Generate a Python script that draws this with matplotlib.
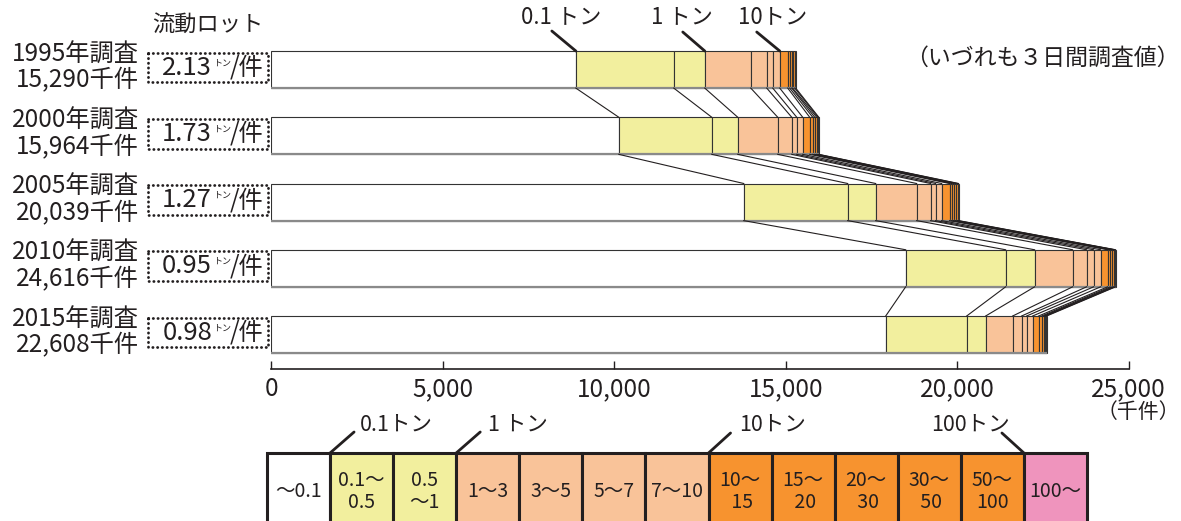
import numpy as np
import matplotlib
matplotlib.use('Agg')
import matplotlib.pyplot as plt
import matplotlib.transforms as mtransforms
from matplotlib.patches import Rectangle

plt.rcParams['font.family'] = ['Noto Sans CJK JP', 'DejaVu Sans']
INK = '#231f20'

# 流動ロット規模別の件数（千件）
years = [1995, 2000, 2005, 2010, 2015]
totals = [15290, 15964, 20039, 24616, 22608]
lots = ['2.13', '1.73', '1.27', '0.95', '0.98']
classes = ['～0.1', '0.1～\n0.5', '0.5\n～1', '1～3', '3～5', '5～7', '7～10',
           '10～\n 15', '15～\n 20', '20～\n 30', '30～\n 50', '50～\n100', '100～']
seg_1995 = [8878, 2856, 904, 1341, 466, 175, 204, 233, 58, 58, 29, 59, 29]
seg_2000 = [10131, 2711, 758, 1166, 408, 146, 174, 204, 88, 58, 58, 38, 24]
seg_2005 = [13774, 3031, 816, 1195, 408, 146, 175, 233, 59, 58, 58, 57, 29]
seg_2010 = [18496, 2914, 846, 1107, 408, 204, 204, 204, 77, 60, 40, 35, 21]
seg_2015 = [17914, 2361, 554, 787, 262, 146, 175, 174, 88, 58, 29, 29, 31]
segs = np.array([seg_1995, seg_2000, seg_2005, seg_2010, seg_2015])

WHITE, YEL, PEACH, ORG, PINK = '#ffffff', '#f2ef9e', '#f9c399', '#f7932f', '#ef94bd'
colors = [WHITE, YEL, YEL, PEACH, PEACH, PEACH, PEACH, ORG, ORG, ORG, ORG, ORG, PINK]

W, H = 1181, 521
fig = plt.figure(figsize=(W / 100, H / 100), dpi=100)
ax = fig.add_axes([271.4 / W, 152 / H, 857.3 / W, 369 / H])

h = 0.56
cum = np.cumsum(segs, axis=1)
for i in range(len(years)):
    left = np.concatenate([[0], cum[i, :-1]])
    ax.barh(i, segs[i], left=left, height=h, color=colors,
            edgecolor='#333333', linewidth=0.8)
    ax.plot([0, totals[i]], [i + h / 2, i + h / 2], color='#8a8a8a', lw=1.6,
            solid_capstyle='butt')

# 年次間の接続線
for i in range(len(years) - 1):
    for k in range(cum.shape[1]):
        ax.plot([cum[i, k], cum[i + 1, k]], [i + h / 2, i + 1 - h / 2],
                color=INK, lw=0.8)

ax.set_xlim(0, 25000)
ax.set_ylim(4.52, -1.05)
ax.set_yticks([])
for s in ['top', 'left', 'right']:
    ax.spines[s].set_visible(False)
ax.spines['bottom'].set_color(INK)
ax.spines['bottom'].set_linewidth(1.2)
ax.set_xticks(range(0, 25001, 5000))
ax.set_xticklabels([f'{v:,}' for v in range(0, 25001, 5000)])
ax.tick_params(axis='x', direction='in', length=6, width=1, pad=5,
               labelsize=17.5, colors=INK)

# 上部のトン区切り注記（1995年）
top = 0 - h / 2
for k, lab, lo, to in [(0, '0.1 トン', (-24, 20), (-15, 34)),
                       (2, '1 トン', (-22, 19), (-23, 34)),
                       (6, '10トン', (-23, 19), (-7, 34))]:
    ax.annotate('', xy=(cum[0, k], top), xytext=lo, textcoords='offset pixels',
                arrowprops=dict(arrowstyle='-', color=INK, lw=2, shrinkA=0, shrinkB=0))
    ax.annotate(lab, xy=(cum[0, k], top), xytext=to, textcoords='offset pixels',
                ha='center', va='center', fontsize=16, color=INK)

# 左側ラベルと流動ロット
blend = mtransforms.blended_transform_factory(fig.transFigure, ax.transData)
for i, (y, t, lot) in enumerate(zip(years, totals, lots)):
    ax.text(139 / W, i - 0.03, f'{y}年調査\n{t:,}千件', transform=blend,
            ha='right', va='center', fontsize=17.5, linespacing=1.0, color=INK)
    box = Rectangle((148 / W, i - 0.255), 120 / W, 0.45, transform=blend,
                    fill=False, edgecolor=INK, lw=2,
                    linestyle=(0, (0.1, 1.6)), clip_on=False)
    box.set_capstyle('round')
    ax.add_patch(box)
    ax.text(212 / W, i - 0.03, lot, transform=blend, ha='right', va='center',
            fontsize=18.5, color=INK)
    ax.text(213 / W, i - 0.10, 'トン', transform=blend, ha='left', va='center',
            fontsize=6.5, color=INK)
    ax.text(230 / W, i - 0.03, '/件', transform=blend, ha='left', va='center',
            fontsize=17.5, color=INK)

fig.text(208 / W, 1 - 25 / H, '流動ロット', ha='center', va='center',
         fontsize=16, color=INK)
fig.text(1180 / W, 1 - 58 / H, '（いづれも３日間調査値）', ha='right', va='center',
         fontsize=16.5, color=INK)
fig.text(1180 / W, 1 - 412 / H, '（千件）', ha='right', va='center',
         fontsize=15, color=INK)

# 凡例
lg = fig.add_axes([267 / W, -9 / H, 820 / W, 77 / H])
lg.set_xlim(0, len(classes))
lg.set_ylim(0, 1)
lg.axis('off')
lg.bar(range(len(classes)), 1, width=1, align='edge', color=colors,
       edgecolor=INK, linewidth=2.2, clip_on=False)
for k, lab in enumerate(classes):
    lg.text(k + 0.5, 0.5, lab, ha='center', va='center', fontsize=14,
            color=INK, linespacing=1.05, multialignment='center')

for b, lab, lo, to, ha in [(1, '0.1トン', (24, 21), (30, 28), 'left'),
                           (3, '1 トン', (24, 21), (32, 28), 'left'),
                           (7, '10トン', (22, 20), (31, 28), 'left'),
                           (12, '100トン', (-22, 20), (-53, 28), 'center')]:
    lg.annotate('', xy=(b, 1), xytext=lo, textcoords='offset pixels',
                arrowprops=dict(arrowstyle='-', color=INK, lw=2, shrinkA=0, shrinkB=0))
    lg.annotate(lab, xy=(b, 1), xytext=to, textcoords='offset pixels',
                ha=ha, va='center', fontsize=15.5, color=INK)

plt.savefig('out.png', dpi=100)
